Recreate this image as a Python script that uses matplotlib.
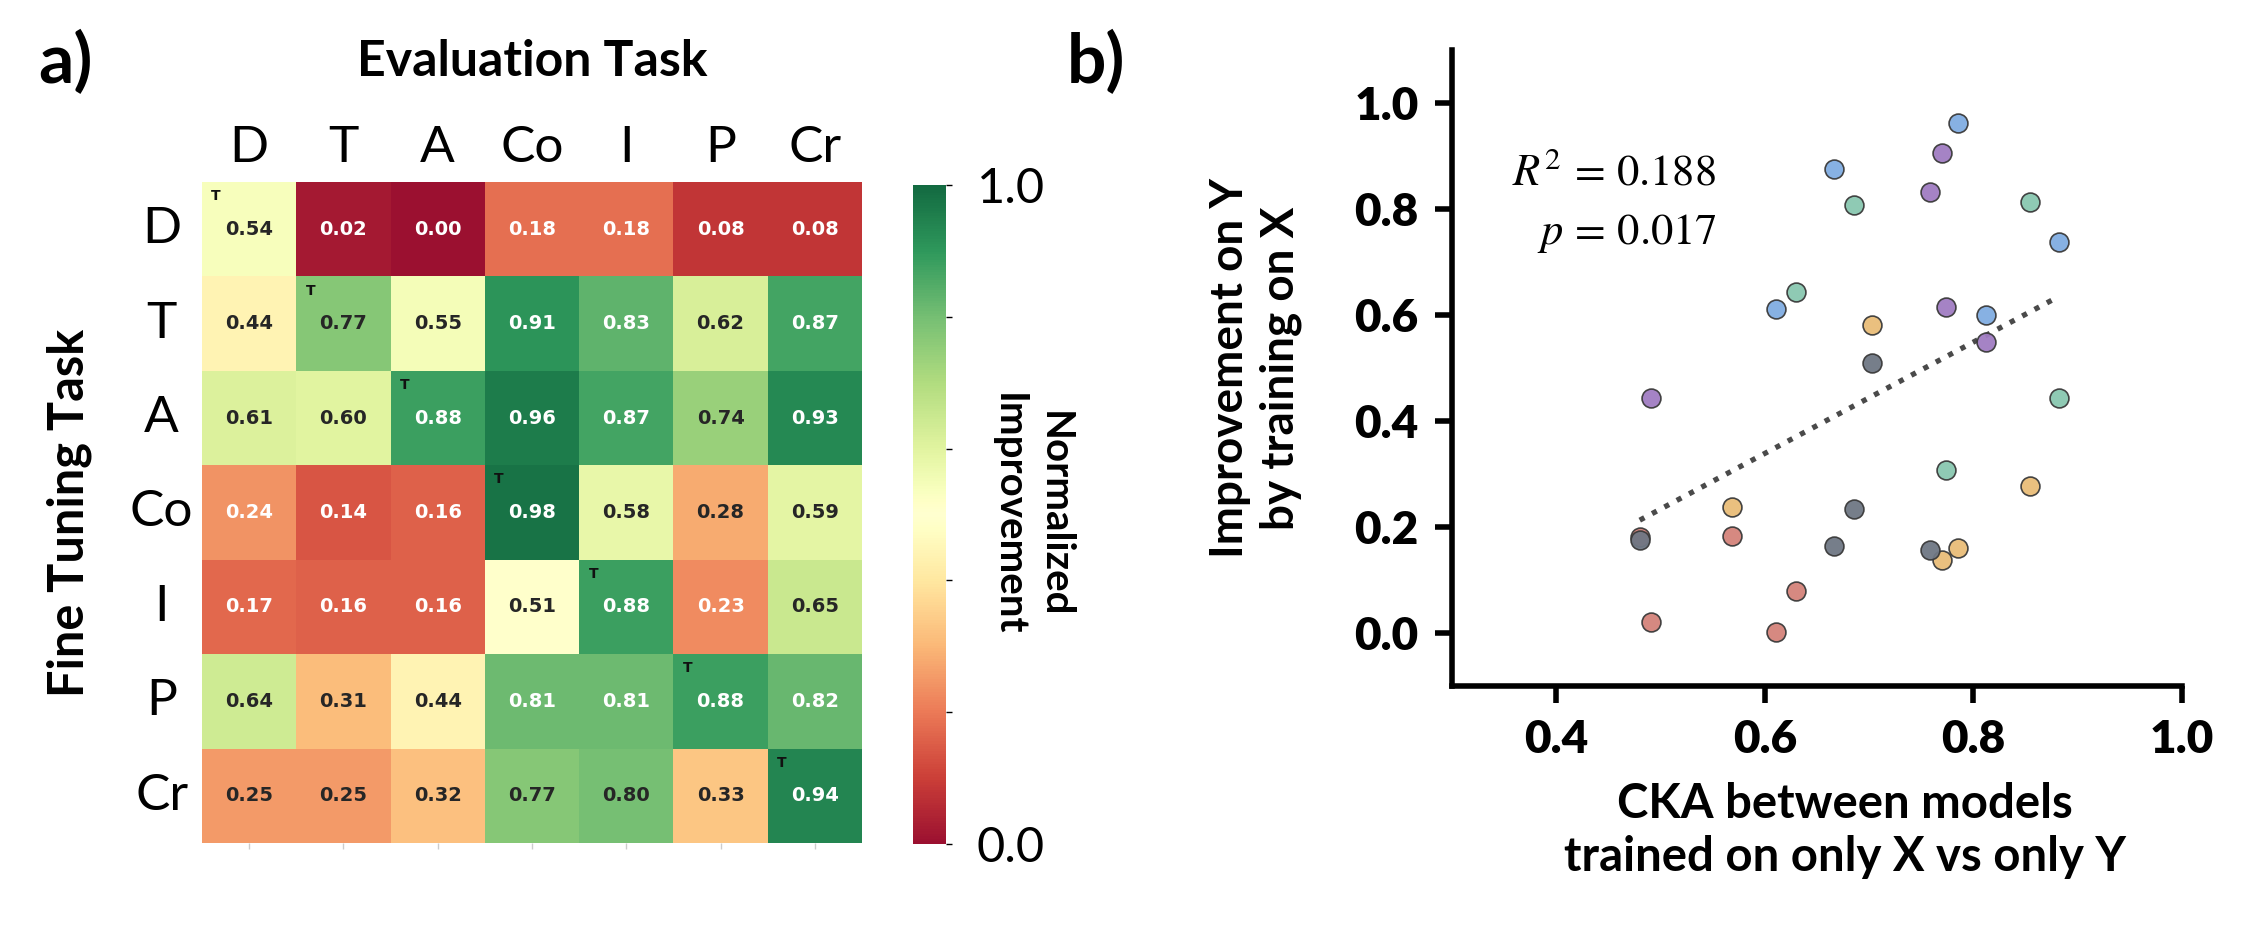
import numpy as np
import matplotlib
matplotlib.use("Agg")
import matplotlib.pyplot as plt
from matplotlib.colors import ListedColormap
import seaborn as sns

plt.rcParams['font.family'] = ['Lato', 'DejaVu Sans']
plt.rcParams['mathtext.fontset'] = 'stix'

tasks = ["D", "T", "A", "Co", "I", "P", "Cr"]
improvement = np.array([
    [0.54, 0.02, 0.00, 0.18, 0.18, 0.08, 0.08],
    [0.44, 0.77, 0.55, 0.91, 0.83, 0.62, 0.87],
    [0.61, 0.60, 0.88, 0.96, 0.87, 0.74, 0.93],
    [0.24, 0.14, 0.16, 0.98, 0.58, 0.28, 0.59],
    [0.17, 0.16, 0.16, 0.51, 0.88, 0.23, 0.65],
    [0.64, 0.31, 0.44, 0.81, 0.81, 0.88, 0.82],
    [0.25, 0.25, 0.32, 0.77, 0.80, 0.33, 0.94],
])

# scatter: CKA (x) vs improvement (y), one colour per fine-tuning task
cka_D = [0.480, 0.568, 0.630, 0.491, 0.611]
imp_D = [0.181, 0.183, 0.079, 0.022, 0.002]
cka_T = [0.770, 0.758, 0.774, 0.812, 0.491]
imp_T = [0.906, 0.832, 0.616, 0.550, 0.444]
cka_A = [0.785, 0.666, 0.882, 0.611, 0.812]
imp_A = [0.963, 0.875, 0.739, 0.612, 0.601]
cka_Co = [0.685, 0.854, 0.630, 0.882, 0.774]
imp_Co = [0.808, 0.814, 0.644, 0.444, 0.308]
cka_P = [0.703, 0.568, 0.854, 0.785, 0.770]
imp_P = [0.582, 0.239, 0.277, 0.161, 0.139]
cka_I = [0.703, 0.685, 0.666, 0.758, 0.480]
imp_I = [0.510, 0.234, 0.164, 0.157, 0.176]

groups = [
    (cka_D, imp_D, "#d4837a"),
    (cka_T, imp_T, "#a07cc2"),
    (cka_A, imp_A, "#81ade2"),
    (cka_Co, imp_Co, "#89c7b0"),
    (cka_P, imp_P, "#e9bd78"),
    (cka_I, imp_I, "#6f7784"),
]

# slightly muted RdYlGn
base = plt.get_cmap("RdYlGn")(np.linspace(0, 1, 256))[:, :3]
lum = (base @ np.array([0.299, 0.587, 0.114]))[:, None]
muted = np.clip(0.84 * base + 0.16 * lum + 0.03, 0, 1)
cmap = ListedColormap(muted)

fig = plt.figure(figsize=(11.23, 4.63), dpi=200)

# ---- a) heatmap
ax = fig.add_axes([0.0899, 0.0896, 0.2939, 0.7139])
cax = fig.add_axes([0.4065, 0.0886, 0.0147, 0.7117])
sns.heatmap(improvement, ax=ax, cbar_ax=cax, cmap=cmap, vmin=0, vmax=1,
            annot=True, fmt=".2f",
            annot_kws={"size": 7, "weight": "bold", "family": "DejaVu Sans"},
            xticklabels=tasks, yticklabels=tasks)
for i in range(len(tasks)):
    ax.text(i + 0.15, i + 0.15, "T", ha="center", va="center", fontsize=5,
            fontweight="bold", family="DejaVu Sans", color="#111111")
ax.tick_params(axis="x", top=False, bottom=True, labeltop=True, labelbottom=False,
               length=2, width=0.5, color="#cccccc", labelsize=18.5, pad=2)
ax.tick_params(axis="y", left=False, length=0, labelsize=18.5, pad=14.5)
plt.setp(ax.get_yticklabels(), rotation=0, ha="center")
plt.setp(ax.get_xticklabels(), rotation=0)
ax.set_ylabel("Fine Tuning Task", fontsize=17.5, fontweight="bold")
ax.yaxis.set_label_coords(-0.167, 0.5)
fig.text(532 / 2246, 1 - 76 / 926, "Evaluation Task", ha="center", va="baseline",
         fontsize=18, fontweight="bold")

cax.set_yticks([0, 0.2, 0.4, 0.6, 0.8, 1.0])
cax.set_yticklabels(["0.0", "", "", "", "", "1.0"])
cax.tick_params(length=2, width=0.5, labelsize=17.5, pad=9)
cax.set_ylabel("Normalized\nImprovement", rotation=270, fontsize=14.5,
               fontweight="bold", labelpad=10, linespacing=1.3)

# ---- b) scatter
bx = fig.add_axes([0.6465, 0.259, 0.3250, 0.6868])
for xs, ys, col in groups:
    bx.scatter(xs, ys, s=46, color=col, edgecolor="#3a3a3a", linewidth=0.6,
               alpha=0.95, zorder=3)

all_x = np.concatenate([g[0] for g in groups])
all_y = np.concatenate([g[1] for g in groups])
slope, intercept = np.polyfit(all_x, all_y, 1)
fx = np.array([all_x.min(), all_x.max()])
bx.plot(fx, slope * fx + intercept, linestyle=":", color="#4a4a4a", lw=1.9, zorder=2)

bx.text(0.362, 0.84, "$R^2\\,=\\,0.188$\n$p\\,=\\,0.017$", transform=bx.transAxes,
        ha="right", va="top", fontsize=16, linespacing=1.55)

bx.set_xlim(0.3, 1.0)
bx.set_ylim(-0.1, 1.1)
bx.set_xticks([0.4, 0.6, 0.8, 1.0])
bx.set_yticks([0.0, 0.2, 0.4, 0.6, 0.8, 1.0])
bx.set_xticklabels(["0.4", "0.6", "0.8", "1.0"])
bx.set_yticklabels(["0.0", "0.2", "0.4", "0.6", "0.8", "1.0"])
for t in bx.get_xticklabels() + bx.get_yticklabels():
    t.set_fontweight("heavy")
bx.tick_params(labelsize=16.5, length=6, width=2, pad=6)
for side in ["top", "right"]:
    bx.spines[side].set_visible(False)
for side in ["left", "bottom"]:
    bx.spines[side].set_linewidth(2)

bx.set_xlabel("CKA between models\ntrained on only X vs only Y", fontsize=17,
              fontweight="bold", linespacing=1.25)
bx.xaxis.set_label_coords(0.538, -0.15)
bx.set_ylabel("Improvement on Y\nby training on X", fontsize=16.5,
              fontweight="bold", linespacing=1.25)
bx.yaxis.set_label_coords(-0.205, 0.5)

fig.text(38 / 2246, 1 - 83 / 926, "a)", fontsize=25, fontweight="bold", va="baseline")
fig.text(1067 / 2246, 1 - 83 / 926, "b)", fontsize=25, fontweight="bold", va="baseline")

fig.savefig("out.png", dpi=200)
